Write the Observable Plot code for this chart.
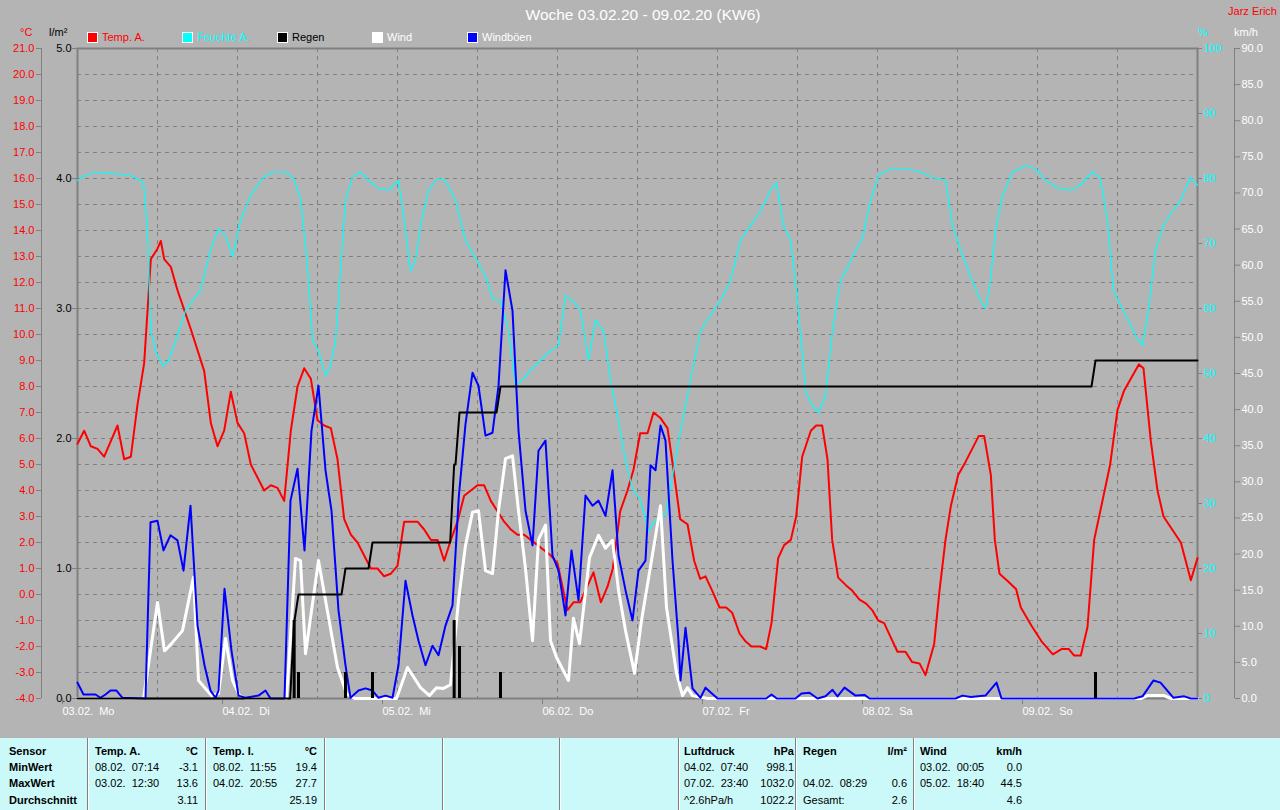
<!DOCTYPE html>
<html><head><meta charset="utf-8">
<script src="https://cdn.jsdelivr.net/npm/d3@7"></script>
<script src="https://cdn.jsdelivr.net/npm/@observablehq/plot@0.6"></script>
<style>
html,body{margin:0;padding:0;background:#b4b4b4;width:1280px;height:810px;overflow:hidden;font-family:"Liberation Sans",Arial,sans-serif;}
#wrap{position:relative;width:1280px;height:810px;}
.layer{position:absolute;left:0;top:0;}
.t{position:absolute;white-space:pre;font-size:11px;line-height:13px;}
.b{font-weight:bold;}
#table{position:absolute;left:0;top:738px;width:1280px;height:72px;background:#cbf9f9;}
.div{position:absolute;top:0;width:1px;height:72px;background:#808080;border-right:1px solid #ffffff;}
.sq{position:absolute;width:9px;height:9px;border:1px solid #ffffff;}
</style></head>
<body><div id="wrap"></div>
<script>
// ---------- data ----------
const START = Date.UTC(2020, 1, 3);
const dayLabels = ["03.02.", "04.02.", "05.02.", "06.02.", "07.02.", "08.02.", "09.02."];
const weekdays = ["Mo", "Di", "Mi", "Do", "Fr", "Sa", "So"];

// [hours since 03.02. 00:00, °C]
const temperature = [[0,5.8],[1,6.3],[2,5.7],[3,5.6],[4,5.3],[5,5.9],[6,6.5],[7,5.2],[8,5.3],[9,7.3],[10,8.9],[11,12.9],[12,13.3],[12.5,13.6],[13,12.9],[14,12.6],[15,11.7],[17,10.2],[19,8.6],[20,6.6],[21,5.7],[22,6.3],[23,7.8],[24,6.6],[25,6.2],[26,5.0],[27,4.5],[28,4.0],[29,4.2],[30,4.1],[31,3.6],[32,6.3],[33,8.0],[34,8.7],[35,8.3],[36,6.7],[37,6.5],[38,6.4],[39,5.2],[40,2.9],[41,2.3],[42,2.0],[43,1.5],[44,1.0],[45,1.0],[46,0.7],[47,0.8],[48,1.1],[49,2.8],[50,2.8],[51,2.8],[52,2.5],[53,2.1],[54,2.1],[55,1.3],[56,2.1],[57,2.8],[58,3.8],[59,4.0],[60,4.2],[61,4.2],[62,3.6],[63,3.2],[64,2.8],[65,2.5],[66,2.3],[67,2.3],[68,2.1],[69,1.9],[70,1.7],[71,1.5],[72,1.2],[73.5,-0.6],[74.4,-0.3],[75.4,-0.3],[77.4,0.85],[78.5,-0.3],[79.5,0.3],[80.3,1.0],[81.4,3.2],[82.5,4.0],[83.4,4.8],[84.4,6.2],[85.5,6.2],[86.4,7.0],[87.4,6.8],[88.5,6.4],[89.4,4.8],[90.4,2.9],[91.5,2.7],[92.5,1.3],[93.4,0.6],[94.2,0.7],[95.2,0.15],[96.3,-0.5],[97.3,-0.5],[98.2,-0.7],[99.3,-1.5],[100.2,-1.8],[101.1,-2.0],[102.4,-2.0],[103.3,-2.1],[104.1,-1.1],[105.1,1.4],[106,1.9],[107,2.1],[107.8,3.0],[108.7,5.3],[110,6.3],[110.8,6.5],[111.7,6.5],[112.5,5.2],[113.2,2.1],[114.1,0.65],[115.3,0.35],[116.2,0.15],[117.3,-0.2],[118.3,-0.35],[119.2,-0.6],[120.1,-1.0],[121,-1.1],[121.9,-1.6],[123,-2.2],[124.2,-2.2],[125.2,-2.6],[126.3,-2.65],[127.2,-3.1],[128.5,-1.9],[129.3,0.15],[130.2,2.1],[131,3.4],[132.1,4.6],[133.2,5.1],[134.2,5.6],[135.2,6.1],[136,6.1],[137,4.6],[137.6,2.1],[138.3,0.8],[139.6,0.5],[140.8,0.2],[141.5,-0.5],[143.1,-1.2],[144.6,-1.8],[146.3,-2.3],[147.6,-2.1],[148.7,-2.1],[149.5,-2.35],[150.5,-2.35],[151.5,-1.25],[152.5,2.1],[154.9,5.0],[156,7.1],[157,7.85],[158.1,8.35],[159.2,8.85],[159.9,8.7],[161,5.9],[162,4.0],[162.9,3.0],[164.2,2.5],[165.5,2.0],[167,0.55],[168,1.4]];

// [hours, %]
const humidity = [[0,79.7],[1.2,80.5],[2.7,81],[4.95,80.8],[7.95,80.5],[9.9,79.4],[10.5,72],[11,56.6],[11.7,53.5],[12.75,51.2],[13.65,52],[14.7,55],[16.2,59.7],[18.45,62.8],[19.95,69],[21.15,72.3],[22.2,71.2],[23.25,68],[24.45,73.5],[25.95,77.4],[27.75,80],[29.25,81],[31.2,81],[32.4,80],[33.45,77],[34.5,66.6],[35.25,55],[36.15,53.5],[37.2,49.7],[37.95,51.2],[38.7,55],[39.45,65.8],[40.2,76.6],[41.25,80.3],[42.45,81],[43.65,79.7],[45.15,78.5],[46.65,78.2],[48.15,79.7],[49.2,72],[49.95,65.8],[50.7,67.4],[51.45,72.8],[52.65,78.2],[54,80],[55.2,79.7],[56.7,76.6],[58.2,70.5],[59.7,67.7],[61.2,65],[62.25,61.5],[63.45,61.2],[64.65,56.6],[65.7,48.2],[66.75,49],[67.95,50.5],[69.45,52],[70.95,53.5],[72.15,54.3],[73.2,62],[74.25,61.2],[75.45,59.7],[76.65,52],[77.7,58.2],[78.9,56.6],[79.95,49],[81.15,42.8],[82.2,36.6],[83.25,32.3],[84.45,30.5],[85.65,25.8],[86.7,27.4],[88.2,28.2],[89.25,34.3],[90.45,41.2],[91.95,49],[93.45,56.6],[94.95,59],[96.45,61.2],[97.95,64.3],[99.45,70.5],[100.95,72.8],[102.45,75],[103.95,78.2],[104.85,79.4],[105.9,72.8],[106.95,70.5],[108,61.2],[109.2,47.4],[110.25,45],[111.15,44],[112.2,46.6],[113.25,56.6],[114.45,64.3],[115.65,66.6],[116.7,69],[117.75,70.8],[118.95,76.6],[120.15,80.5],[121.95,81.5],[124.2,81.5],[126.45,81],[128.7,80],[130.2,79.7],[131.25,72.8],[132.45,69],[133.95,65],[135.45,61.2],[136.2,60],[136.95,64.3],[137.7,72],[138.75,77.4],[140.25,81],[142.2,82],[143.7,81.5],[145.2,79.7],[147.15,78.5],[148.95,78.2],[150.45,79],[152.25,81],[153.45,80],[154.5,73.5],[155.4,62.8],[156.45,60.5],[157.65,58.2],[158.7,55.8],[159.75,54.3],[160.65,59.7],[161.7,69],[162.9,72.8],[164.25,75],[165.45,76.6],[166.95,80.2],[168,79]];

// [hours, km/h]
const wind = [[0,0],[9.9,0],[10.95,6.6],[12,13.3],[13.05,6.6],[14.1,7.6],[15.75,9.4],[17.4,16.8],[18.15,2.5],[20.1,0.4],[21.15,0.7],[22.2,8.3],[23.25,2.5],[24.3,0.4],[25.2,0],[31.35,0],[32.7,19.4],[33.45,19.1],[34.2,6.2],[36.15,19.1],[37.2,13.6],[39,4.3],[40.35,0.7],[41.55,0],[47.85,0],[49.5,4.3],[51.45,1.5],[52.8,0.4],[53.85,1.5],[54.9,1.4],[55.95,1.9],[57.15,13.6],[58.2,21.2],[59.25,25.8],[60.15,26],[61.2,17.7],[62.25,17.3],[63.15,26],[64.2,33.2],[65.25,33.6],[66.15,26],[67.2,18],[68.25,8],[69.15,22],[70.2,24],[70.95,8],[71.85,5.7],[73.65,2.5],[74.4,11.1],[75.3,7.6],[76.8,19.5],[78.15,22.6],[79.2,20.8],[80.25,21.9],[81.15,15],[82.2,9.4],[83.55,3.5],[84.6,10.8],[86.1,19.1],[87.45,26.7],[88.35,12.6],[89.85,3.5],[90.75,0.4],[91.5,1.5],[92.25,0.4],[94.5,0],[159.5,0],[160.5,0.4],[163,0.4],[164,0],[168,0]];

// [hours, km/h]
const gusts = [[0,2.2],[0.9,0.55],[2.7,0.55],[3.45,0.1],[4.2,0.55],[4.95,1.1],[5.85,1.1],[6.75,0.1],[10.2,0],[10.95,24.4],[12,24.6],[12.9,20.5],[13.95,22.6],[15,21.9],[15.9,17.7],[16.95,26.7],[18,10.1],[19.05,4.6],[19.95,1.1],[20.7,0.1],[21.15,1.1],[22.05,15.2],[23.1,6.6],[24.15,0.4],[25.2,0.1],[27.15,0.4],[28.2,1.1],[28.95,0],[31.05,0],[31.95,27.4],[33,31.8],[34.05,20.5],[35.1,37.1],[36.15,43.3],[37.2,31.6],[38.1,26],[39.15,12.2],[40.2,4.6],[40.95,0.1],[42.15,1.1],[43.2,1.4],[44.25,1.1],[45.15,0.1],[46.2,0.4],[47.25,0.1],[48.15,4.6],[49.2,16.3],[50.25,11.5],[51.15,8.0],[52.2,4.6],[53.25,7.3],[54.15,6.0],[55.2,10.1],[56.25,12.9],[57.2,28],[58.2,38],[59.25,45.1],[60.15,43.3],[61.2,36.4],[62.25,36.8],[63.15,43.3],[64.2,59.3],[65.25,53.7],[66.15,37.1],[67.2,26],[68.25,21.2],[69.15,34.3],[70.2,35.7],[71.25,19.8],[72.15,17.7],[73.2,11.5],[74.1,20.5],[75.15,13.6],[76.2,28.1],[77.25,26.7],[78.15,27.4],[79.2,25.3],[80.25,31.6],[81.15,19.8],[82.2,15],[83.25,10.8],[84.15,17.7],[85.2,19.1],[85.95,32.3],[86.7,31.6],[87.45,37.8],[88.2,35.7],[89.25,19.1],[90.15,8],[90.45,2.5],[91.2,9.8],[92.25,1.4],[93.45,0.1],[94.2,1.5],[96,0],[103.3,0],[104.1,0.55],[104.9,0],[107.7,0],[108.6,0.7],[109.8,0.8],[111,0],[112.2,0.3],[113.25,1.2],[114,0.3],[115.05,1.5],[116.7,0.4],[118.05,0.5],[118.8,0],[131.7,0],[132.75,0.4],[134,0.2],[136.2,0.4],[137.85,2.2],[138.6,0],[158.5,0],[159.75,0.3],[161.4,2.5],[162.45,2.2],[164.4,0.1],[166,0.3],[167,0],[168,0]];

// rain per interval [hours, l/m²]
const rain = [[32.5,0.6],[33.15,0.2],[40.2,0.2],[44.25,0.2],[56.5,0.6],[57.3,0.4],[63.45,0.2],[152.7,0.2]];

// axis ticks
const tempTicks = d3.range(-4, 22, 1);
const rainTicks = [0, 1, 2, 3, 4, 5];
const humTicks = d3.range(0, 101, 10);
const windTicks = d3.range(0, 91, 5);

// legend
const legendNames = ["Temp. A.", "Feuchte A.", "Regen", "Wind", "Windböen"];
const legendColors = ["#ff0000", "#00ffff", "#000000", "#ffffff", "#0000ff"];
const legendTextColors = ["#ff0000", "#00ffff", "#000000", "#ffffff", "#ffffff"];

// statistics table
const rowLabels = ["Sensor", "MinWert", "MaxWert", "Durchschnitt"];
const statCols = [
  {name: "Temp. A.", unit: "°C", rows: [["08.02.  07:14", "-3.1"], ["03.02.  12:30", "13.6"], ["", "3.11"]]},
  {name: "Temp. I.", unit: "°C", rows: [["08.02.  11:55", "19.4"], ["04.02.  20:55", "27.7"], ["", "25.19"]]},
  {name: "Luftdruck", unit: "hPa", rows: [["04.02.  07:40", "998.1"], ["07.02.  23:40", "1032.0"], ["^2.6hPa/h", "1022.2"]]},
  {name: "Regen", unit: "l/m²", rows: [["", ""], ["04.02.  08:29", "0.6"], ["Gesamt:", "2.6"]]},
  {name: "Wind", unit: "km/h", rows: [["03.02.  00:05", "0.0"], ["05.02.  18:40", "44.5"], ["", "4.6"]]}
];

// ---------- helpers ----------
const toDate = h => new Date(START + h * 3600000);
const X0 = toDate(0), X1 = toDate(168);
const dayTicks = d3.range(0, 7).map(d => toDate(d * 24));
const halfDayTicks = d3.range(1, 14).map(i => toDate(i * 12));
const fmtDay = d => { const i = Math.round((d - START) / 86400000); return dayLabels[i] + "\u00a0\u00a0" + weekdays[i]; };

const W = 1280, H = 725;
const base = {
  width: W, height: H, marginLeft: 77, marginRight: 83, marginTop: 48, marginBottom: 27,
  x: {type: "utc", domain: [X0, X1], axis: null},
  style: {background: "transparent", fontFamily: "Liberation Sans, Arial, sans-serif", fontSize: "11px", overflow: "visible"}
};
const GRID = "#808080";
const wrap = document.getElementById("wrap");
function addLayer(svg) { svg.classList.add("layer"); wrap.appendChild(svg); }

// Layer 1: grid, frame, °C + time axes, temperature
addLayer(Plot.plot({
  ...base,
  x: {type: "utc", domain: [X0, X1]},
  y: {domain: [-4, 21]},
  marks: [
    Plot.gridY(tempTicks, {stroke: GRID, strokeOpacity: 1, strokeDasharray: "4,4"}),
    Plot.gridX(halfDayTicks, {stroke: GRID, strokeOpacity: 1, strokeDasharray: "4,4"}),
    Plot.frame({stroke: GRID, strokeWidth: 2}),
    Plot.ruleX([X0], {dx: -36, stroke: GRID}),
    Plot.axisY(tempTicks, {anchor: "left", dx: -36, tickSize: 5, tickPadding: 2, fill: "#ff0000", stroke: GRID, tickFormat: d => d.toFixed(1), label: null}),
    Plot.axisX(dayTicks, {anchor: "bottom", tickSize: 6, tickPadding: 3, fill: "#ffffff", stroke: GRID, tickFormat: fmtDay, textAnchor: "start", dx: -15, label: null}),
    Plot.line(temperature, {x: d => toDate(d[0]), y: d => d[1], stroke: "#ff0000", strokeWidth: 2})
  ]
}));

// Layer 2: humidity
addLayer(Plot.plot({
  ...base,
  y: {domain: [0, 100]},
  marks: [
    Plot.axisY(humTicks, {anchor: "right", tickSize: 4, tickPadding: 2, fill: "#00ffff", stroke: GRID, tickFormat: d => String(d), label: null}),
    Plot.line(humidity, {x: d => toDate(d[0]), y: d => d[1], stroke: "#00ffff", strokeWidth: 1.2})
  ]
}));

// Layer 3: wind + gusts
addLayer(Plot.plot({
  ...base,
  y: {domain: [0, 90]},
  marks: [
    Plot.ruleX([X1], {dx: 37, stroke: GRID}),
    Plot.axisY(windTicks, {anchor: "right", dx: 37, tickSize: 5, tickPadding: 2, fill: "#ffffff", stroke: GRID, tickFormat: d => d.toFixed(1), label: null}),
    Plot.line(wind, {x: d => toDate(d[0]), y: d => d[1], stroke: "#ffffff", strokeWidth: 3}),
    Plot.line(gusts, {x: d => toDate(d[0]), y: d => d[1], stroke: "#0000ff", strokeWidth: 2})
  ]
}));

// Layer 4: rain
const rainCum = [[0, 0]];
let acc = 0;
for (const [h, v] of rain) { rainCum.push([h - 0.6, acc]); acc = Math.round((acc + v) * 10) / 10; rainCum.push([h, acc]); }
rainCum.push([168, acc]);
addLayer(Plot.plot({
  ...base,
  y: {domain: [0, 5]},
  marks: [
    Plot.axisY(rainTicks, {anchor: "left", tickSize: 5, tickPadding: 1, fill: "#000000", stroke: GRID, tickFormat: d => d.toFixed(1), label: null}),
    Plot.ruleX(rain, {x: d => toDate(d[0]), y1: 0, y2: d => d[1], stroke: "#000000", strokeWidth: 3}),
    Plot.line(rainCum, {x: d => toDate(d[0]), y: d => d[1], stroke: "#000000", strokeWidth: 2})
  ]
}));

// ---------- HTML text ----------
function txt(x, y, s, opts = {}) {
  const el = document.createElement("div");
  el.className = "t" + (opts.bold ? " b" : "");
  el.textContent = s;
  el.style.top = y + "px";
  if (opts.right) { el.style.right = (1280 - x) + "px"; el.style.textAlign = "right"; }
  else if (opts.center) { el.style.left = (x - 300) + "px"; el.style.width = "600px"; el.style.textAlign = "center"; }
  else el.style.left = x + "px";
  if (opts.color) el.style.color = opts.color;
  if (opts.size) { el.style.fontSize = opts.size + "px"; el.style.lineHeight = (opts.size + 3) + "px"; }
  (opts.parent || wrap).appendChild(el);
  return el;
}
txt(643, 6, "Woche 03.02.20 - 09.02.20 (KW6)", {center: true, color: "#ffffff", size: 15.5});
txt(1277, 5, "Jarz Erich", {right: true, color: "#ff0000"});
txt(20, 26, "°C", {color: "#ff0000"});
txt(49, 26, "l/m²", {color: "#000000"});
txt(1198, 26, "%", {color: "#00ffff"});
txt(1234, 26, "km/h", {color: "#ffffff"});

const legendX = [87, 182, 277, 372, 467];
legendNames.forEach((n, i) => {
  const sq = document.createElement("div");
  sq.className = "sq";
  sq.style.left = legendX[i] + "px"; sq.style.top = "32px"; sq.style.background = legendColors[i];
  wrap.appendChild(sq);
  txt(legendX[i] + 15, 31, n, {color: legendTextColors[i]});
});

// table
const table = document.createElement("div");
table.id = "table";
wrap.appendChild(table);
[87, 205, 324, 442, 559, 678, 795, 913].forEach(x => {
  const d = document.createElement("div");
  d.className = "div"; d.style.left = x + "px"; table.appendChild(d);
});
const rowTop = [7, 23, 39, 56];
rowLabels.forEach((r, i) => txt(9, rowTop[i], r, {bold: true, parent: table}));
const colLeft = [95, 213, 684, 803, 920];
const colRight = [198, 317, 794, 907, 1022];
statCols.forEach((c, j) => {
  txt(colLeft[j], rowTop[0], c.name, {bold: true, parent: table});
  txt(colRight[j], rowTop[0], c.unit, {bold: true, right: true, parent: table});
  c.rows.forEach((r, i) => {
    if (r[0]) txt(colLeft[j], rowTop[i + 1], r[0], {parent: table});
    if (r[1]) txt(colRight[j], rowTop[i + 1], r[1], {right: true, parent: table});
  });
});
</script>
</body></html>
